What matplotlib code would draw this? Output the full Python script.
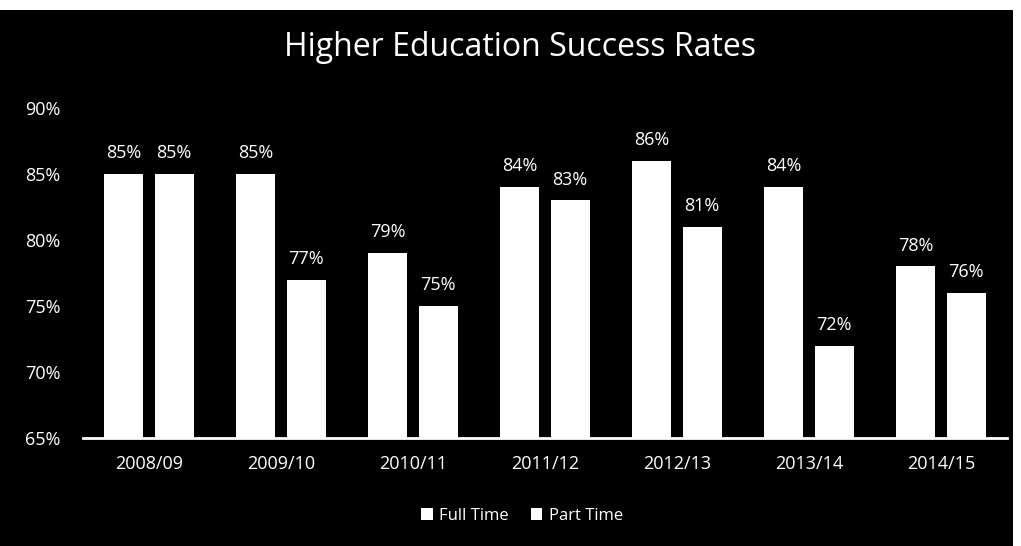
import matplotlib
matplotlib.use("Agg")
import matplotlib.pyplot as plt
from matplotlib.patches import Rectangle
import numpy as np

categories = ["2008/09", "2009/10", "2010/11", "2011/12", "2012/13", "2013/14", "2014/15"]
full_time = [85, 85, 79, 84, 86, 84, 78]
part_time = [85, 77, 75, 83, 81, 72, 76]
yticks = [65, 70, 75, 80, 85, 90]
series_names = ["Full Time", "Part Time"]

plt.rcParams['font.family'] = ['Open Sans', 'DejaVu Sans']

fig = plt.figure(figsize=(10.21, 5.46), dpi=100, facecolor='white')
fig.patches.append(Rectangle((0, 0), 1013/1021, 536/546, transform=fig.transFigure,
                             facecolor='black', edgecolor='none', zorder=-10))

ax = fig.add_axes([83/1021, 108/546, 924/1021, 330/546])
ax.set_facecolor('black')
x = np.arange(len(categories))
w = 0.295
off = 0.19
fs = 13
b1 = ax.bar(x - off, [v - 65 for v in full_time], w, bottom=65, color='white', label=series_names[0])
b2 = ax.bar(x + off, [v - 65 for v in part_time], w, bottom=65, color='white', label=series_names[1])
for xi, v in zip(x - off, full_time):
    ax.text(xi, v + 0.9, f"{v}%", ha='center', va='bottom', color='white', fontsize=fs)
for xi, v in zip(x + off, part_time):
    ax.text(xi, v + 0.9, f"{v}%", ha='center', va='bottom', color='white', fontsize=fs)

ax.set_xlim(-0.5, len(categories) - 0.5)
ax.set_ylim(65, 90)
ax.set_yticks(yticks)
ax.set_yticklabels([f"{t}%" for t in yticks], color='white', fontsize=fs)
ax.set_xticks(x)
ax.set_xticklabels(categories, color='white', fontsize=fs)
ax.tick_params(axis='both', length=0)
ax.tick_params(axis='y', pad=16)
ax.tick_params(axis='x', pad=12)
for s in ['top', 'right', 'left']:
    ax.spines[s].set_visible(False)
ax.spines['bottom'].set_color('white')
ax.spines['bottom'].set_linewidth(2)

fig.text(520/1021, 1 - 47/546, "Higher Education Success Rates", ha='center', va='center',
         color='white', fontsize=23)

leg = fig.legend(handles=[b1, b2], labels=series_names, loc='center', bbox_to_anchor=(522/1021, 1 - 516/546),
                 ncol=2, frameon=False, fontsize=12, labelcolor='white', handlelength=0.7, handleheight=0.7,
                 handletextpad=0.4, columnspacing=1.3)

fig.savefig("out.png", dpi=100, facecolor=fig.get_facecolor())
